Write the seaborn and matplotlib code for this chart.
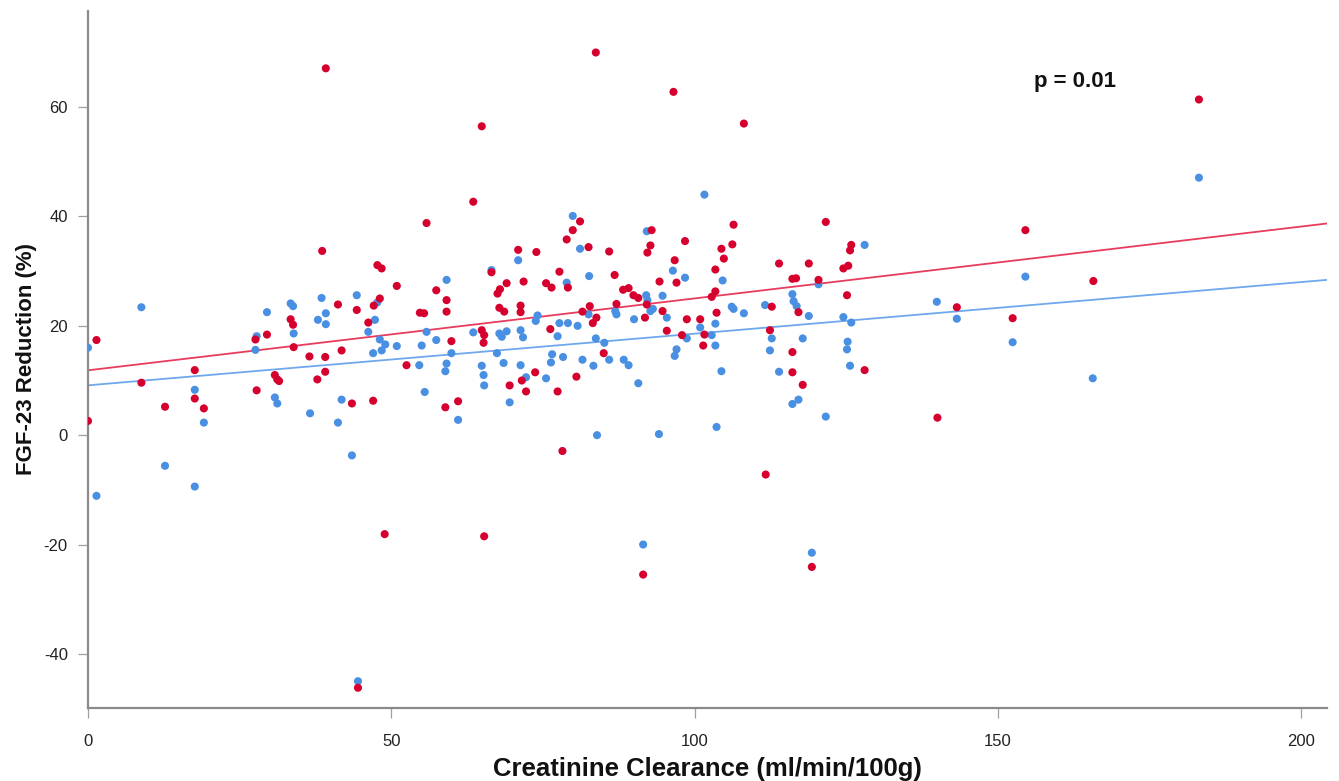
"""FGF-23 reduction vs creatinine clearance, two groups with linear fits."""
import matplotlib
matplotlib.use("Agg")
import matplotlib.pyplot as plt
import pandas as pd
import seaborn as sns

# blue group (x = creatinine clearance, y = FGF-23 reduction %)
BLUE_X = [
    8.8, 29.5, 33.4, 33.8, 38.5, 37.9, 27.8, 27.6, 33.9, 0.0, 17.6, 19.1,
    30.8, 31.2, 36.6, 12.7, 17.6, 1.4,
    39.2, 39.2, 44.3, 47.7, 47.3, 46.2, 48.1, 49.0, 48.4, 47.0, 50.9, 55.0,
    55.8, 57.4, 59.9, 59.1, 54.6, 59.1, 58.9, 55.5, 41.8, 41.2, 61.0, 63.5,
    64.9, 65.2, 65.3, 66.5, 67.8, 68.2, 69.0, 67.4, 68.5, 69.5, 70.9, 71.3,
    71.7, 71.3, 72.2, 73.8, 74.1,
    101.6, 79.9, 92.1, 81.1, 82.6, 78.9, 96.4, 98.4, 104.6, 92.0, 92.2, 94.7,
    92.7, 93.1, 87.1, 86.9, 82.5, 77.7, 79.1, 80.7, 77.4, 83.7, 85.1, 90.0,
    95.4, 100.9, 103.4, 102.8, 98.7, 103.4, 106.1, 106.4, 108.1, 97.0, 96.7,
    76.5, 76.3, 78.3, 81.5, 83.3, 85.9, 88.3, 89.1, 90.7, 75.5, 104.4, 83.9,
    94.1, 103.6,
    128.0, 120.4, 116.1, 116.3, 116.8, 111.6, 118.8, 124.5, 125.8, 112.7,
    112.4, 117.8, 125.2, 125.1, 125.6, 113.9, 116.1, 117.1, 121.6, 139.9,
    143.2,
    43.5, 44.5, 91.5, 119.3, 183.1, 154.5, 152.4, 165.6,
]
BLUE_Y = [
    23.4, 22.5, 24.1, 23.6, 25.1, 21.1, 18.1, 15.6, 18.6, 16.0, 8.3, 2.3,
    6.9, 5.8, 4.0, -5.6, -9.4, -11.1,
    22.3, 20.3, 25.6, 24.3, 21.1, 18.9, 17.5, 16.6, 15.5, 15.0, 16.3, 16.4,
    18.9, 17.4, 15.0, 28.4, 12.8, 13.1, 11.7, 7.9, 6.5, 2.3, 2.8, 18.8,
    12.7, 11.0, 9.1, 30.2, 18.6, 18.0, 19.0, 15.0, 13.2, 6.0, 32.0, 19.2,
    17.9, 12.8, 10.6, 20.9, 21.9,
    44.0, 40.1, 37.3, 34.1, 29.1, 27.9, 30.1, 28.8, 28.3, 25.6, 24.7, 25.5,
    22.7, 23.1, 22.1, 22.7, 22.1, 20.5, 20.5, 20.0, 18.1, 17.7, 16.9, 21.2,
    21.5, 19.7, 20.4, 18.3, 17.7, 16.4, 23.5, 23.1, 22.3, 15.7, 14.5,
    14.8, 13.3, 14.3, 13.8, 12.7, 13.8, 13.8, 12.8, 9.5, 10.4, 11.7, 0.0,
    0.2, 1.5,
    34.8, 27.6, 25.8, 24.5, 23.6, 23.8, 21.8, 21.6, 20.6, 17.7,
    15.5, 17.7, 17.1, 15.7, 12.7, 11.6, 5.7, 6.5, 3.4, 24.4,
    21.3,
    -3.7, -45.0, -20.0, -21.5, 47.1, 29.0, 17.0, 10.4,
]

# red group
RED_X = [
    1.4, 0.0, 8.8, 12.7, 17.6, 17.6, 19.1, 27.6, 29.5, 27.8, 33.4, 33.8,
    33.9, 30.8, 31.2, 31.5, 36.5, 37.8,
    55.8, 38.6, 47.7, 48.4, 50.9, 41.2, 44.3, 48.1, 47.1, 46.2, 39.1, 39.1,
    41.8, 43.5, 47.0, 52.5, 54.7, 55.4, 57.4, 59.1, 59.1, 59.9, 58.9, 61.0,
    66.5, 67.5, 67.9, 69.0, 67.8, 68.6, 70.9, 73.9, 71.8, 71.3, 71.3, 64.9,
    65.3, 65.2, 73.7, 71.5, 72.2, 69.5,
    81.1, 79.9, 78.9, 82.5, 85.9, 92.9, 92.7, 92.2, 98.4, 96.7, 106.4, 106.2,
    104.4, 104.8, 103.4, 77.7, 86.8, 75.5, 76.4, 79.1, 94.2, 97.0, 88.2, 89.1,
    89.9, 90.7, 103.4, 102.8, 87.1, 92.1, 82.7, 81.5, 83.8, 83.2, 94.7, 91.8,
    103.6, 98.7, 100.9, 76.2, 95.4, 97.9, 101.6, 101.4, 85.0, 80.5, 77.4,
    121.6, 125.8, 125.6, 113.9, 118.8, 125.3, 124.5, 116.1, 116.7, 120.4,
    125.1, 112.7, 117.1, 112.4, 116.1, 116.1, 117.8, 128.0, 143.2, 140.0,
    39.2, 63.5, 64.9, 83.7, 96.5, 108.1, 183.1, 154.5, 165.7, 152.4,
    48.9, 65.3, 78.2, 91.5, 111.7, 119.3, 44.5,
]
RED_Y = [
    17.4, 2.6, 9.6, 5.2, 11.9, 6.7, 4.9, 17.5, 18.4, 8.2, 21.2, 20.2,
    16.1, 11.0, 10.2, 9.9, 14.4, 10.2,
    38.8, 33.7, 31.1, 30.5, 27.3, 23.9, 22.9, 25.0, 23.7, 20.6, 14.3, 11.6,
    15.5, 5.8, 6.3, 12.8, 22.4, 22.3, 26.5, 24.7, 22.6, 17.2, 5.1, 6.2,
    29.8, 25.9, 26.7, 27.8, 23.3, 22.6, 33.9, 33.5, 28.1, 23.7, 22.5, 19.2,
    18.3, 16.9, 11.5, 10.0, 8.0, 9.1,
    39.1, 37.5, 35.8, 34.4, 33.6, 37.5, 34.7, 33.4, 35.5, 32.0, 38.5, 34.9,
    34.1, 32.3, 30.3, 29.9, 29.3, 27.8, 27.0, 27.0, 28.1, 27.9, 26.6, 26.9,
    25.6, 25.1, 26.3, 25.3, 24.0, 23.9, 23.6, 22.6, 21.5, 20.5, 22.7, 21.5,
    22.4, 21.2, 21.2, 19.4, 19.1, 18.3, 18.4, 16.4, 15.0, 10.7, 8.0,
    39.0, 34.8, 33.8, 31.4, 31.4, 31.0, 30.5, 28.6, 28.7, 28.4,
    25.6, 23.5, 22.5, 19.2, 15.2, 11.5, 9.2, 11.9, 23.4, 3.2,
    67.1, 42.7, 56.5, 70.0, 62.8, 57.0, 61.4, 37.5, 28.2, 21.4,
    -18.1, -18.5, -2.9, -25.5, -7.2, -24.1, -46.2,
]

X_TICKS = [0, 50, 100, 150, 200]
Y_TICKS = [-40, -20, 0, 20, 40, 60]

BLUE = "#4a90e2"
RED = "#d6002e"
BLUE_LINE = "#6fa8ec"
RED_LINE = "#e83c5c"
AXIS_GREY = "#8a8a8a"

df = pd.concat(
    [
        pd.DataFrame({"clearance": BLUE_X, "reduction": BLUE_Y, "group": "blue"}),
        pd.DataFrame({"clearance": RED_X, "reduction": RED_Y, "group": "red"}),
    ],
    ignore_index=True,
)

sns.set_theme(style="white")
plt.rcParams["font.family"] = ["Liberation Sans", "DejaVu Sans"]
plt.rcParams["axes.unicode_minus"] = False

fig = plt.figure(figsize=(13.39, 7.81), dpi=100)
ax = fig.add_axes([0.0657, 0.0935, 0.9253, 0.8925])
ax.set_xlim(0, 204.2)
ax.set_ylim(-49.9, 77.6)

# fit lines over the full axis range (SPSS style)
for grp, col in (("blue", BLUE_LINE), ("red", RED_LINE)):
    sub = df[df["group"] == grp]
    sns.regplot(
        data=sub, x="clearance", y="reduction", ax=ax, scatter=False,
        ci=None, truncate=False, color=col, line_kws={"linewidth": 1.3},
    )

sns.scatterplot(
    data=df, x="clearance", y="reduction", hue="group",
    palette={"blue": BLUE, "red": RED}, s=34, linewidth=0,
    legend=False, ax=ax, zorder=3,
)

ax.set_xlim(0, 204.2)
ax.set_ylim(-49.9, 77.6)
ax.set_xticks(X_TICKS)
ax.set_yticks(Y_TICKS)

for side in ("top", "right"):
    ax.spines[side].set_visible(False)
for side in ("left", "bottom"):
    ax.spines[side].set_color(AXIS_GREY)
    ax.spines[side].set_linewidth(1.6)

ax.tick_params(axis="both", which="major", direction="out", length=7.5,
               width=0.9, color="#a0a0a0", labelsize=12, labelcolor="#222222",
               bottom=True, left=True)
ax.tick_params(axis="x", pad=11)
ax.tick_params(axis="y", pad=7)

ax.set_xlabel("Creatinine Clearance (ml/min/100g)", fontsize=18.5,
              fontweight="bold", labelpad=6, color="#111111")
ax.set_ylabel("FGF-23 Reduction (%)", fontsize=16, fontweight="bold",
              labelpad=5, color="#111111")

ax.text(162.6, 64.7, "p = 0.01", fontsize=16, fontweight="bold",
        ha="center", va="center", color="#111111")

fig.savefig("out.png", dpi=100)
